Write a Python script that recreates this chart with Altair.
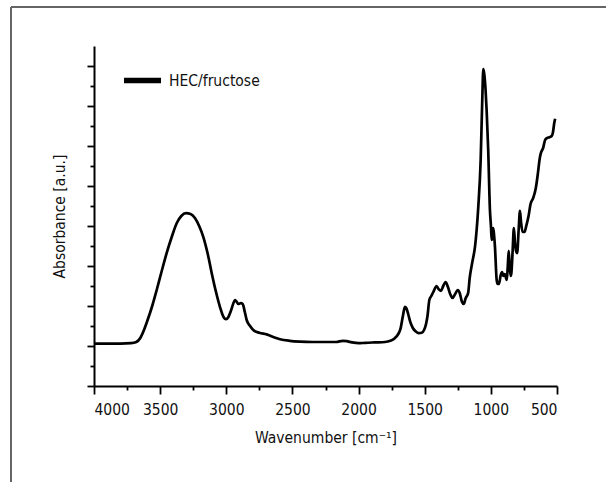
import altair as alt
import pandas as pd

series_name = "HEC/fructose"

wavenumber = [4000, 3900, 3800, 3720, 3680, 3650, 3620, 3600, 3560, 3526, 3490, 3451, 3410, 3375,
              3340, 3305, 3270, 3237, 3205, 3174, 3140, 3110, 3080, 3048, 3020, 3002, 2985, 2967,
              2945, 2934, 2920, 2909, 2890, 2876, 2860, 2846, 2820, 2796, 2750, 2695, 2640, 2594,
              2520, 2443, 2350, 2250, 2170, 2120, 2090, 2050, 2000, 1950, 1880, 1800, 1760, 1728,
              1700, 1684, 1665, 1650, 1640, 1625, 1611, 1590, 1567, 1545, 1523, 1505, 1490, 1479,
              1465, 1450, 1435, 1410, 1395, 1377, 1360, 1342, 1325, 1305, 1290, 1270, 1250, 1235,
              1218, 1205, 1190, 1172, 1160, 1140, 1120, 1095, 1077, 1065, 1057, 1050, 1040, 1032,
              1020, 1007, 999, 994, 988, 982, 975, 969, 956, 948, 939, 925, 915, 905, 895, 880,
              872, 865, 858, 850, 845, 835, 826, 818, 810, 801, 790, 780, 772, 760, 745, 734, 715,
              700, 680, 660, 645, 630, 622, 605, 590, 575, 558, 540, 530, 522, 514]

absorbance = [1.06, 1.06, 1.06, 1.07, 1.10, 1.20, 1.42, 1.60, 2.00, 2.40, 2.85, 3.32, 3.75, 4.07,
              4.25, 4.32, 4.30, 4.20, 4.00, 3.73, 3.30, 2.82, 2.38, 1.98, 1.72, 1.67, 1.72, 1.86,
              2.08, 2.15, 2.10, 2.05, 2.07, 2.05, 1.85, 1.65, 1.50, 1.40, 1.33, 1.29, 1.22, 1.17,
              1.13, 1.11, 1.10, 1.10, 1.10, 1.13, 1.12, 1.09, 1.07, 1.08, 1.09, 1.10, 1.13, 1.19,
              1.30, 1.42, 1.75, 1.98, 1.95, 1.80, 1.62, 1.45, 1.36, 1.32, 1.33, 1.40, 1.55, 1.75,
              2.15, 2.25, 2.35, 2.50, 2.42, 2.38, 2.50, 2.60, 2.48, 2.28, 2.20, 2.30, 2.40, 2.32,
              2.10, 2.05, 2.20, 2.32, 2.70, 3.10, 3.48, 4.48, 5.65, 7.15, 7.92, 7.80, 7.40, 6.90,
              5.90, 4.40, 3.98, 3.65, 3.75, 3.95, 3.75, 3.48, 2.65, 2.55, 2.55, 2.78, 2.85, 2.75,
              2.80, 2.65, 3.00, 3.38, 3.00, 2.75, 2.82, 3.40, 3.95, 3.60, 3.38, 3.32, 3.90, 4.38,
              4.10, 3.85, 3.85, 3.98, 4.25, 4.55, 4.70, 4.95, 5.30, 5.70, 5.82, 5.95, 6.15, 6.20,
              6.22, 6.25, 6.35, 6.55, 6.68]

x_major = [4000, 3500, 3000, 2500, 2000, 1500, 1000, 500]
x_minor = [3750, 3250, 2750, 2250, 1750, 1250, 750]
y_major = [0, 1, 2, 3, 4, 5, 6, 7, 8]
y_minor = [0.5, 1.5, 2.5, 3.5, 4.5, 5.5, 6.5, 7.5]

df = pd.DataFrame({"w": wavenumber, "a": absorbance, "s": series_name})

FONT = "'DejaVu Sans Condensed', 'Liberation Sans', sans-serif"
FS = 15.5

xscale = alt.Scale(domain=[4000, 500], nice=False, zero=False)
yscale = alt.Scale(domain=[0, 8.5], nice=False, zero=False)

line = alt.Chart(df).mark_line(strokeWidth=2.7, interpolate="monotone", strokeJoin="round").encode(
    x=alt.X("w:Q", scale=xscale,
            axis=alt.Axis(orient="bottom", values=x_major, title="Wavenumber [cm⁻¹]", tickSize=8,
                          labelPadding=8, titlePadding=13, format="d")),
    y=alt.Y("a:Q", scale=yscale,
            axis=alt.Axis(orient="left", values=y_major, labels=False, title="Absorbance [a.u.]",
                          tickSize=7, titlePadding=19)),
    color=alt.Color("s:N", scale=alt.Scale(domain=[series_name], range=["black"]),
                    legend=alt.Legend(title=None, orient="none", legendX=27, legendY=13,
                                      symbolType="stroke", symbolSize=1369, symbolStrokeWidth=5.5,
                                      labelFontSize=FS, labelOffset=5, padding=0,
                                      labelFont=FONT, labelColor="#111")),
)

minor_x = alt.Chart(df).mark_line(opacity=0).encode(
    x=alt.X("w:Q", scale=xscale,
            axis=alt.Axis(orient="bottom", values=x_minor, labels=False, title=None, tickSize=4,
                          domain=False)),
)
minor_y = alt.Chart(df).mark_line(opacity=0).encode(
    y=alt.Y("a:Q", scale=yscale,
            axis=alt.Axis(orient="left", values=y_minor, labels=False, title=None, tickSize=4,
                          domain=False)),
)

frame_top = alt.Chart(df).mark_rule(color="#666", strokeWidth=1.4).encode(
    x=alt.value(-83), x2=alt.value(520), y=alt.value(-39))
frame_left = alt.Chart(df).mark_rule(color="#666", strokeWidth=1.4).encode(
    x=alt.value(-83), y=alt.value(-39), y2=alt.value(440))

chart = alt.layer(frame_top, frame_left, minor_x, minor_y, line).resolve_axis(
    x="independent", y="independent"
).resolve_scale(x="shared", y="shared").properties(
    width=463, height=340,
    autosize=alt.AutoSizeParams(type="none"),
    padding={"left": 94, "top": 46, "right": 49, "bottom": 96},
    background="white",
).configure_view(stroke=None).configure_axis(
    grid=False, domainColor="black", domainWidth=2, tickColor="black", tickWidth=1.8,
    labelFont=FONT, titleFont=FONT, labelFontSize=FS, titleFontSize=FS,
    labelColor="#111", titleColor="#111", titleFontWeight="normal",
)

chart.save("out.html", embed_options={"renderer": "svg", "actions": False})
